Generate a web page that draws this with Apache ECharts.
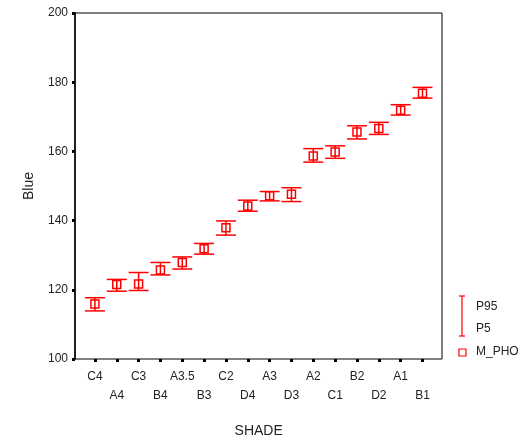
<!DOCTYPE html>
<html>
<head>
<meta charset="utf-8">
<script src="https://cdn.jsdelivr.net/npm/echarts@6/dist/echarts.min.js"></script>
<style>
  html, body { margin: 0; padding: 0; background: #fff; }
  #chart { width: 523px; height: 444px; }
</style>
</head>
<body>
<div id="chart"></div>
<script>
// Shade categories along the x axis
var shades = ['C4', 'A4', 'C3', 'B4', 'A3.5', 'B3', 'C2', 'D4', 'A3', 'D3', 'A2', 'C1', 'B2', 'D2', 'A1', 'B1'];
// Median blue value (M_PHO) per shade
var medianBlue = [115.9, 121.5, 121.7, 125.7, 127.9, 131.9, 137.9, 144.2, 147.2, 147.6, 158.7, 159.8, 165.6, 166.6, 171.9, 176.8];
// 5th and 95th percentiles per shade
var p5 = [113.9, 119.6, 119.8, 124.3, 126.0, 130.3, 135.8, 142.7, 145.7, 145.5, 156.9, 158.0, 163.6, 164.9, 170.5, 175.4];
var p95 = [117.7, 123.0, 125.0, 127.9, 129.5, 133.4, 139.9, 145.9, 148.4, 149.5, 160.8, 161.6, 167.4, 168.4, 173.5, 178.5];
// Y axis range and step
var yMin = 100, yMax = 200, yStep = 20;

var RED = '#ff0000';
var INK = '#222';
var FONT = 'Liberation Sans, Arial, sans-serif';

var chart = echarts.init(document.getElementById('chart'), null, { renderer: 'canvas' });

var errData = shades.map(function (s, i) { return [i, p5[i], p95[i]]; });
var midData = shades.map(function (s, i) { return [i, medianBlue[i]]; });

function renderErr(params, api) {
  var x = api.value(0);
  var lo = api.coord([x, api.value(1)]);
  var hi = api.coord([x, api.value(2)]);
  var half = 10;
  var st = { stroke: RED, lineWidth: 1.5 };
  return {
    type: 'group',
    children: [
      { type: 'line', shape: { x1: hi[0], y1: hi[1], x2: lo[0], y2: lo[1] }, style: st },
      { type: 'line', shape: { x1: hi[0] - half, y1: hi[1], x2: hi[0] + half, y2: hi[1] }, style: st },
      { type: 'line', shape: { x1: lo[0] - half, y1: lo[1], x2: lo[0] + half, y2: lo[1] }, style: st }
    ]
  };
}

chart.setOption({
  animation: false,
  backgroundColor: '#fff',
  textStyle: { fontFamily: FONT },
  grid: [
    { left: 75, top: 13, width: 367, height: 346, show: true, borderColor: '#000', borderWidth: 1, backgroundColor: 'transparent' },
    { left: 84, top: 13, width: 349.4, height: 346 }
  ],
  xAxis: [
    { gridIndex: 0, type: 'value', min: 0, max: 1, show: false },
    {
      gridIndex: 1, type: 'category', data: shades, boundaryGap: true,
      axisLine: { show: false },
      axisTick: { show: true, interval: 0, alignWithLabel: true, length: 3, lineStyle: { color: '#000', width: 3 } },
      axisLabel: {
        interval: 0, margin: 8, color: INK, fontSize: 12, fontFamily: FONT, lineHeight: 19,
        formatter: function (v, i) { return i % 2 === 0 ? v : '\n' + v; }
      },
      name: 'SHADE', nameLocation: 'middle', nameGap: 65,
      nameTextStyle: { color: INK, fontSize: 14, fontFamily: FONT }
    }
  ],
  yAxis: [
    {
      gridIndex: 0, type: 'value', min: yMin, max: yMax, interval: yStep,
      axisLine: { show: true, lineStyle: { color: '#000', width: 1.5 } },
      axisTick: { show: true, length: 3, lineStyle: { color: '#000', width: 3 } },
      splitLine: { show: false },
      axisLabel: { margin: 7, color: INK, fontSize: 12, fontFamily: FONT },
      name: 'Blue', nameLocation: 'middle', nameGap: 39, nameRotate: 90,
      nameTextStyle: { color: INK, fontSize: 14, fontFamily: FONT }
    },
    { gridIndex: 1, type: 'value', min: yMin, max: yMax, show: false }
  ],
  series: [
    {
      name: 'P5-P95', type: 'custom', xAxisIndex: 1, yAxisIndex: 1,
      data: errData, renderItem: renderErr, z: 3
    },
    {
      name: 'M_PHO', type: 'scatter', xAxisIndex: 1, yAxisIndex: 1,
      data: midData, symbol: 'rect', symbolSize: 8,
      itemStyle: { color: 'rgba(0,0,0,0)', borderColor: RED, borderWidth: 1.5, opacity: 1 },
      z: 4
    }
  ],
  graphic: [
    // legend: percentile range
    { type: 'line', shape: { x1: 462, y1: 296, x2: 462, y2: 336 }, style: { stroke: RED, lineWidth: 1.2 } },
    { type: 'line', shape: { x1: 459, y1: 296, x2: 465, y2: 296 }, style: { stroke: RED, lineWidth: 1.2 } },
    { type: 'line', shape: { x1: 459, y1: 336, x2: 465, y2: 336 }, style: { stroke: RED, lineWidth: 1.2 } },
    { type: 'text', left: 476, top: 301, style: { text: 'P95', fill: INK, font: '12px ' + FONT } },
    { type: 'text', left: 476, top: 323, style: { text: 'P5', fill: INK, font: '12px ' + FONT } },
    // legend: median marker
    { type: 'rect', shape: { x: 459, y: 349, width: 7, height: 7 }, style: { fill: 'none', stroke: RED, lineWidth: 1.2 } },
    { type: 'text', left: 476, top: 346, style: { text: 'M_PHO', fill: INK, font: '12px ' + FONT } }
  ]
});
</script>
</body>
</html>
